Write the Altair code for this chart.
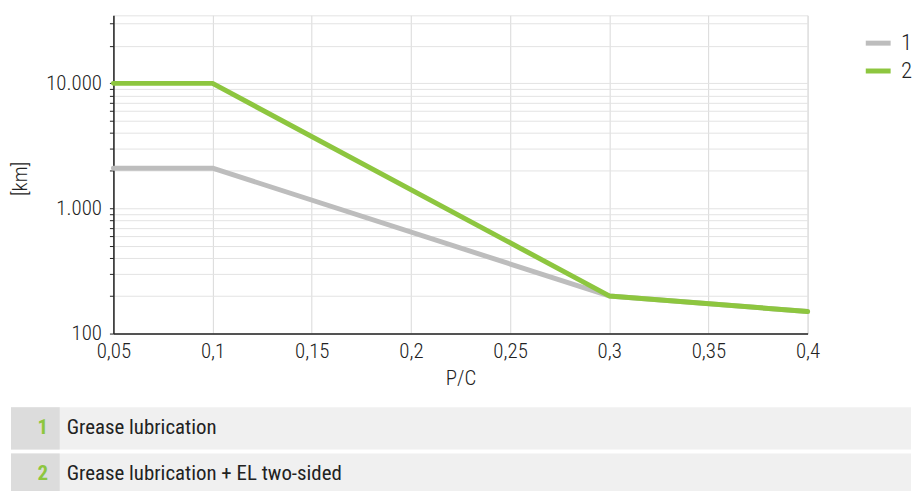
import altair as alt
import pandas as pd

# ---- data ----
pc = [0.05, 0.1, 0.3, 0.4]
km_1 = [2100, 2100, 200, 150]
km_2 = [10000, 10000, 200, 150]
series = ["1", "2"]
colors = ["#bdbdbd", "#8dc63f"]
x_ticks = [0.05, 0.1, 0.15, 0.2, 0.25, 0.3, 0.35, 0.4]
y_ticks = [100, 200, 300, 400, 500, 600, 700, 800, 900,
           1000, 2000, 3000, 4000, 5000, 6000, 7000, 8000, 9000,
           10000, 20000, 30000]
row_nums = ["1", "2"]
row_labels = ["Grease lubrication", "Grease lubrication + EL two-sided"]

FONT = "Roboto Condensed, Liberation Sans Narrow, DejaVu Sans Condensed, Roboto, sans-serif"
GREEN = colors[1]
W_LIGHT = 300

df = pd.DataFrame({
    "pc": pc + pc,
    "km": km_1 + km_2,
    "series": [series[0]] * len(pc) + [series[1]] * len(pc),
})

lines = alt.Chart(df).mark_line(strokeWidth=5, strokeCap="round", strokeJoin="round").encode(
    x=alt.X("pc:Q",
            scale=alt.Scale(domain=[0.05, 0.4], nice=False, zero=False),
            axis=alt.Axis(values=x_ticks, title="P/C",
                          labelExpr="replace(format(datum.value, '.2~f'), '.', ',')",
                          labelFont=FONT, labelFontSize=21, labelFontWeight=W_LIGHT,
                          labelColor="#222", labelFlush=False,
                          labelPadding=7, tickSize=0,
                          titleFont=FONT, titleFontSize=21, titleFontWeight=W_LIGHT,
                          titleColor="#222", titlePadding=6,
                          domainColor="#222", domainWidth=1.5,
                          gridColor="#d9d9d9", gridWidth=1)),
    y=alt.Y("km:Q",
            scale=alt.Scale(type="log", domain=[100, 35000], nice=False),
            axis=alt.Axis(values=y_ticks, title="[km]",
                          labelExpr="(datum.value == 100 || datum.value == 1000 || datum.value == 10000) ? replace(format(datum.value, ','), ',', '.') : ''",
                          labelFont=FONT, labelFontSize=21, labelFontWeight=W_LIGHT,
                          labelColor="#222",
                          labelPadding=8, tickSize=4, tickColor="#222",
                          titleFont=FONT, titleFontSize=21, titleFontWeight=W_LIGHT,
                          titleColor="#222", titleX=-93, titleY=164, titleBaseline="middle",
                          domainColor="#222", domainWidth=1.5,
                          gridColor="#e3e3e3", gridWidth=1)),
    color=alt.Color("series:N",
                    scale=alt.Scale(domain=series, range=colors),
                    legend=alt.Legend(title=None, orient="none", legendX=754, legendY=13,
                                      symbolType="stroke", symbolStrokeWidth=5, symbolSize=625,
                                      labelFont=FONT, labelFontSize=23, labelFontWeight=W_LIGHT,
                                      labelColor="#222",
                                      labelOffset=8, rowPadding=1)),
).properties(width=698, height=320,
             view=alt.ViewBackground(stroke="#e3e3e3", strokeWidth=1))

# table below the chart; its origin lines up with the plot's left edge
tdf = pd.DataFrame({"num": row_nums, "label": row_labels})
TW = 802
LEFT = -103
base = alt.Chart(tdf).encode(
    y=alt.Y("num:N", axis=None, scale=alt.Scale(paddingInner=0.086, paddingOuter=0))
)
bg = base.mark_rect(color="#f0f0f0").encode(x=alt.value(LEFT), x2=alt.value(TW))
numbg = base.mark_rect(color="#dcdcdc").encode(x=alt.value(LEFT), x2=alt.value(LEFT + 49))
nums = base.mark_text(color=GREEN, fontWeight="bold", fontSize=21, font=FONT,
                      align="center", baseline="middle").encode(x=alt.value(LEFT + 32), text="num:N")
labels = base.mark_text(color="#222", fontSize=21, font=FONT,
                        align="left", baseline="middle").encode(x=alt.value(LEFT + 56), text="label:N")
table = alt.layer(bg, numbg, nums, labels).properties(
    width=TW, height=89, view=alt.ViewBackground(strokeWidth=0))

chart = alt.vconcat(lines, table, spacing=18).resolve_legend(color="independent").properties(
    padding={"left": 1, "top": 5, "right": 0, "bottom": 0}
).configure_view(strokeWidth=0)

chart.save("out.html", embed_options={"renderer": "svg", "actions": False})
